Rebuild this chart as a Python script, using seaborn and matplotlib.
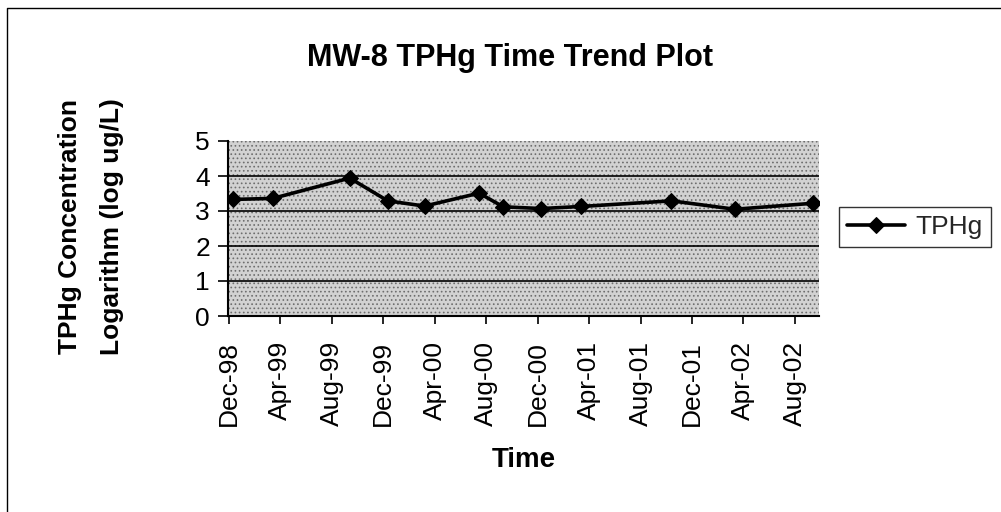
import matplotlib
matplotlib.use("Agg")
import matplotlib.pyplot as plt
import matplotlib.dates as mdates
from matplotlib.patches import Rectangle
from matplotlib.lines import Line2D
import seaborn as sns
import pandas as pd

# ---- data ----
sample_dates = ["1998-12-10", "1999-03-15", "1999-09-13", "1999-12-12",
                "2000-03-08", "2000-07-15", "2000-09-10", "2000-12-09",
                "2001-03-14", "2001-10-13", "2002-03-12", "2002-09-12"]
tphg_log = [3.33, 3.36, 3.94, 3.29, 3.14, 3.51, 3.12, 3.07, 3.13, 3.29, 3.05, 3.22]
series_name = "TPHg"
title = "MW-8 TPHg Time Trend Plot"
ylabel_lines = ["TPHg Concentration", "Logarithm (log ug/L)"]
xlabel = "Time"
yticks = [0, 1, 2, 3, 4, 5]

df = pd.DataFrame({"Date": pd.to_datetime(sample_dates), series_name: tphg_log})

sns.set_theme(style="white")
plt.rcParams["font.family"] = ["Liberation Sans", "DejaVu Sans"]
plt.rcParams["hatch.linewidth"] = 0.7

W, H = 1001, 512
fig = plt.figure(figsize=(W / 100, H / 100), dpi=100)
fig.patch.set_facecolor("white")

def fx(px):
    return px / W

def fy(py):
    return 1 - py / H

left, right, top, bottom = 228, 819, 141, 316
ax = fig.add_axes([fx(left), fy(bottom), fx(right - left), (bottom - top) / H])

# stippled grey plot area
ax.set_facecolor("#d2d2d2")
ax.add_patch(Rectangle((0, 0), 1, 1, transform=ax.transAxes, facecolor="#d2d2d2",
                       edgecolor="#6e6e6e", hatch="....", lw=0, zorder=0))

sns.lineplot(data=df, x="Date", y=series_name, ax=ax, color="black", lw=2.6,
             marker="D", markersize=8, markeredgecolor="black",
             markerfacecolor="black", label=series_name, zorder=5)

ax.set_ylim(0, 5)
ax.set_yticks(yticks)
ax.set_xlim(pd.Timestamp("1998-11-29"), pd.Timestamp("2002-09-27"))
ax.xaxis.set_major_locator(mdates.MonthLocator(bymonth=[4, 8, 12]))
ax.xaxis.set_major_formatter(mdates.DateFormatter("%b-%y"))

for y in yticks[1:-1]:
    ax.axhline(y, color="black", lw=1.2, zorder=2)

for s in ["top", "right"]:
    ax.spines[s].set_visible(False)
for s in ["left", "bottom"]:
    ax.spines[s].set_color("black")
    ax.spines[s].set_linewidth(1.5)

ax.tick_params(axis="x", which="major", direction="out", length=6, width=1.2,
               color="black", pad=12, labelsize=19, labelcolor="black",
               labelrotation=90, bottom=True)
ax.tick_params(axis="y", which="major", direction="out", length=7, width=1.2,
               color="black", pad=6, labelsize=19, labelcolor="black", left=True)
for lbl in ax.get_xticklabels():
    lbl.set_va("top")
    lbl.set_ha("center")

ax.set_xlabel("")
ax.set_ylabel("")

# legend
leg = ax.legend(loc="center left", bbox_to_anchor=(fx(839), fy(227)),
                bbox_transform=fig.transFigure, frameon=True, fontsize=19,
                handlelength=2.2, handletextpad=0.4, borderpad=0.3,
                fancybox=False, borderaxespad=0)
leg.get_frame().set_edgecolor("black")
leg.get_frame().set_linewidth(1.0)

# texts
fig.text(fx(510), fy(58), title, ha="center", va="center", fontsize=22,
         fontweight="bold", color="black")
fig.text(fx(524), fy(460), xlabel, ha="center", va="center", fontsize=20,
         fontweight="bold", color="black")
fig.text(fx(70), fy(227), ylabel_lines[0], ha="center", va="center", rotation=90,
         fontsize=19, fontweight="bold", color="black")
fig.text(fx(112), fy(227), ylabel_lines[1], ha="center", va="center", rotation=90,
         fontsize=19, fontweight="bold", color="black")

# outer frame of the chart (top and left edges visible in the scan)
fig.lines.append(Line2D([fx(7), fx(7), fx(1001)], [fy(512), fy(8), fy(8)],
                        transform=fig.transFigure, color="black", lw=1.0))

fig.savefig("out.png", dpi=100)
